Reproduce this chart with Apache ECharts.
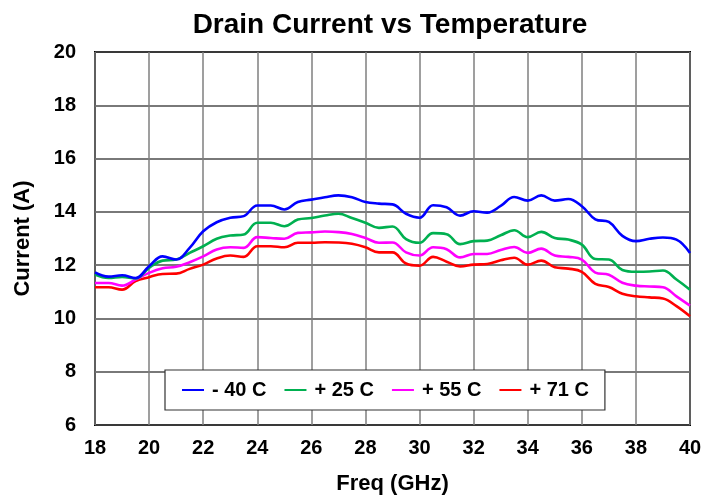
<!DOCTYPE html>
<html>
<head>
<meta charset="utf-8">
<script src="https://cdn.jsdelivr.net/npm/echarts@6/dist/echarts.min.js"></script>
<style>html,body{margin:0;padding:0;background:#fff}#c{width:723px;height:501px}</style>
</head>
<body>
<div id="c"></div>
<script>
const freq = [18,18.5,19,19.5,20,20.5,21,21.5,22,22.5,23,23.5,24,24.5,25,25.5,26,26.5,27,27.5,28,28.5,29,29.5,30,30.5,31,31.5,32,32.5,33,33.5,34,34.5,35,35.5,36,36.5,37,37.5,38,38.5,39,39.5,40];
const seriesNames = ['- 40 C', '+ 25 C', '+ 55 C', '+ 71 C'];
const cold = [11.73,11.57,11.62,11.52,11.96,12.33,12.21,12.65,13.27,13.61,13.78,13.84,14.24,14.24,14.09,14.37,14.46,14.55,14.62,14.55,14.37,14.31,14.28,13.93,13.78,14.25,14.17,13.86,14.02,13.97,14.22,14.56,14.42,14.62,14.42,14.48,14.21,13.72,13.62,13.10,12.90,12.99,13.04,12.96,12.46];
const room = [11.65,11.52,11.56,11.50,11.90,12.17,12.21,12.46,12.71,12.99,13.11,13.15,13.59,13.59,13.46,13.71,13.77,13.86,13.93,13.77,13.59,13.40,13.45,12.98,12.84,13.20,13.16,12.79,12.90,12.92,13.12,13.31,13.05,13.25,13.02,12.96,12.77,12.23,12.21,11.82,11.75,11.76,11.80,11.46,11.08];
const warm = [11.33,11.33,11.23,11.46,11.71,11.88,11.94,12.11,12.33,12.59,12.67,12.65,13.05,13.02,12.99,13.21,13.23,13.26,13.24,13.17,13.02,12.84,12.85,12.48,12.36,12.67,12.60,12.29,12.42,12.42,12.57,12.68,12.46,12.62,12.36,12.31,12.21,11.72,11.64,11.34,11.23,11.20,11.17,10.83,10.48];
const hot = [11.17,11.17,11.08,11.40,11.55,11.67,11.68,11.86,12.02,12.25,12.36,12.31,12.71,12.71,12.67,12.84,12.84,12.86,12.85,12.80,12.67,12.48,12.48,12.06,11.98,12.31,12.13,11.95,12.02,12.04,12.18,12.28,12.02,12.17,11.92,11.87,11.75,11.30,11.18,10.93,10.83,10.79,10.75,10.46,10.08];
const colors = ['#0000FF', '#00B050', '#FF00FF', '#FF0000'];
const allData = [cold, room, warm, hot];

const chart = echarts.init(document.getElementById('c'), null, {renderer: 'canvas'});
const font = 'Liberation Sans, Arial, sans-serif';
chart.setOption({
  animation: false,
  backgroundColor: '#fff',
  title: {
    text: 'Drain Current vs Temperature',
    left: 385, top: 6, textAlign: 'center',
    textStyle: {fontFamily: font, fontWeight: 'bold', fontSize: 28, color: '#000'}
  },
  grid: {left: 95, right: 33, top: 52, bottom: 76, show: true, borderColor: '#000', borderWidth: 2, backgroundColor: 'transparent'},
  legend: {
    left: 165, top: 370,
    padding: [10, 16, 10, 17],
    backgroundColor: '#fff', borderColor: '#333', borderWidth: 1.2,
    itemWidth: 22, itemHeight: 2, itemGap: 18, icon: 'rect',
    textStyle: {fontFamily: font, fontWeight: 'bold', fontSize: 20, color: '#000', padding: [0, 0, 0, 3]},
    data: seriesNames
  },
  xAxis: {
    type: 'value', min: 18, max: 40, interval: 2,
    name: 'Freq (GHz)', nameLocation: 'middle', nameGap: 48,
    nameTextStyle: {fontFamily: font, fontWeight: 'bold', fontSize: 22, color: '#000'},
    axisLine: {show: false}, axisTick: {show: false},
    axisLabel: {fontFamily: font, fontWeight: 'bold', fontSize: 20, color: '#000', margin: 13},
    splitLine: {show: true, lineStyle: {color: '#7f7f7f', width: 1.5}}
  },
  yAxis: {
    type: 'value', min: 6, max: 20, interval: 2,
    name: 'Current (A)', nameLocation: 'middle', nameGap: 61,
    nameTextStyle: {fontFamily: font, fontWeight: 'bold', fontSize: 22, color: '#000'},
    axisLine: {show: false}, axisTick: {show: false},
    axisLabel: {fontFamily: font, fontWeight: 'bold', fontSize: 20, color: '#000', margin: 19},
    splitLine: {show: true, lineStyle: {color: '#4d4d4d', width: 1.5}}
  },
  series: seriesNames.map((n, i) => ({
    name: n, type: 'line', smooth: 0.4, showSymbol: false, symbol: 'none',
    color: colors[i],
    lineStyle: {color: colors[i], width: 2.6},
    data: freq.map((f, j) => [f, allData[i][j]]),
    z: 10 - i
  }))
});
</script>
</body>
</html>
